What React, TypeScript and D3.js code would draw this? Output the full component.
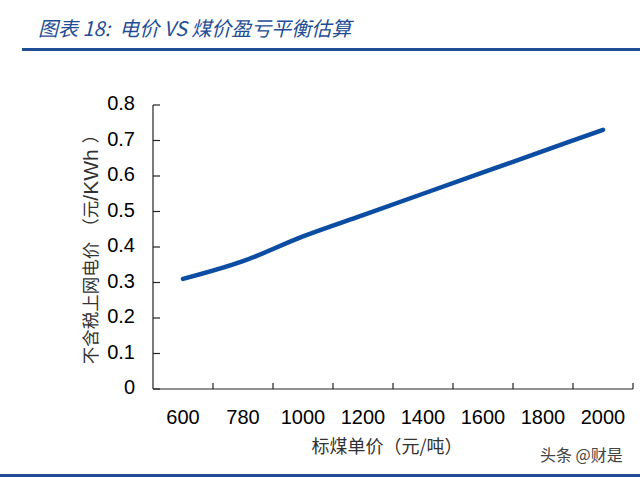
import * as d3 from "d3";

// Breakeven estimate: on-grid power price (ex-tax) vs standard coal price
const categories = ["600", "780", "1000", "1200", "1400", "1600", "1800", "2000"];
const priceValues = [0.31, 0.36, 0.43, 0.49, 0.55, 0.61, 0.67, 0.73];
const yTickValues = [0, 0.1, 0.2, 0.3, 0.4, 0.5, 0.6, 0.7, 0.8];

const TITLE = "图表 18:  电价 VS 煤价盈亏平衡估算";
const X_TITLE = "标煤单价（元/吨）";
const WATERMARK = "头条 @财是";

const W = 640;
const H = 477;
const margin = { left: 153, right: 7, top: 105, bottom: 88 };
const BLUE = "#1f4e96";
const LINE_BLUE = "#0b4da2";
const numFont = "'Liberation Sans', Arial, sans-serif";
const cjkFont = "'Noto Sans CJK SC', 'Noto Sans', sans-serif";

export default function App() {
  const innerW = W - margin.left - margin.right;
  const innerH = H - margin.top - margin.bottom;

  const x = d3.scaleBand().domain(categories).range([0, innerW]);
  const y = d3.scaleLinear().domain([0, 0.8]).range([innerH, 0]);

  const data = categories.map((c, i) => ({ c, v: priceValues[i] }));
  const line = d3
    .line<(typeof data)[0]>()
    .x((d) => (x(d.c) ?? 0) + x.bandwidth() / 2)
    .y((d) => y(d.v))
    .curve(d3.curveCatmullRom.alpha(0.5));

  const fmt = d3.format(".1f");

  return (
    <svg
      width={W}
      height={H}
      style={{ position: "absolute", left: 0, top: 0, background: "#fff" }}
    >
      {/* Header */}
      <text
        x={38}
        y={36}
        fill={BLUE}
        fontSize={20}
        fontStyle="italic"
        fontFamily={cjkFont}
        style={{ whiteSpace: "pre" }}
      >
        {TITLE}
      </text>
      <rect x={22} y={48} width={W - 22} height={3} fill={BLUE} />

      <g transform={`translate(${margin.left},${margin.top})`}>
        {/* Y axis */}
        <line x1={0} x2={0} y1={0} y2={innerH} stroke="#222" strokeWidth={1.2} />
        {yTickValues.map((t) => (
          <g key={t}>
            <line x1={0} x2={7} y1={y(t)} y2={y(t)} stroke="#222" strokeWidth={1.2} />
            <text
              x={-18}
              y={y(t)}
              textAnchor="end"
              dominantBaseline="middle"
              fontSize={20}
              fontFamily={numFont}
              fill="#000"
            >
              {t === 0 ? "0" : fmt(t)}
            </text>
          </g>
        ))}

        {/* X axis */}
        <line x1={0} x2={innerW} y1={innerH} y2={innerH} stroke="#222" strokeWidth={1.2} />
        {categories.map((c) => (
          <line
            key={"t" + c}
            x1={(x(c) ?? 0) + x.bandwidth()}
            x2={(x(c) ?? 0) + x.bandwidth()}
            y1={innerH}
            y2={innerH - 6}
            stroke="#222"
            strokeWidth={1.2}
          />
        ))}
        {categories.map((c) => (
          <text
            key={c}
            x={(x(c) ?? 0) + x.bandwidth() / 2}
            y={innerH + 35}
            textAnchor="middle"
            fontSize={20}
            fontFamily={numFont}
            fill="#000"
          >
            {c}
          </text>
        ))}

        {/* Series */}
        <path
          d={line(data) ?? ""}
          fill="none"
          stroke={LINE_BLUE}
          strokeWidth={4.5}
          strokeLinecap="round"
          strokeLinejoin="round"
        />

        {/* Axis titles */}
        <text
          x={innerW / 2 - 6}
          y={innerH + 64}
          textAnchor="middle"
          fontSize={18}
          fontFamily={cjkFont}
          fill="#333"
        >
          {X_TITLE}
        </text>
        <text
          transform={`translate(${-61},${innerH / 2 - 2}) rotate(-90)`}
          textAnchor="middle"
          dominantBaseline="middle"
          fontSize={17.5}
          fontFamily={cjkFont}
          fill="#333"
        >
          <tspan>不含税上网电价</tspan>
          <tspan dx={6}>（</tspan>
          <tspan>元</tspan>
          <tspan fontSize={21} fontFamily={numFont}>/KWh</tspan>
          <tspan dx={6}>）</tspan>
        </text>
      </g>

      {/* Watermark + footer rule */}
      <text x={540} y={461} fontSize={16} fontFamily={cjkFont} fill="#444">
        {WATERMARK}
      </text>
      <rect x={0} y={474} width={W} height={3} fill={BLUE} />
    </svg>
  );
}
